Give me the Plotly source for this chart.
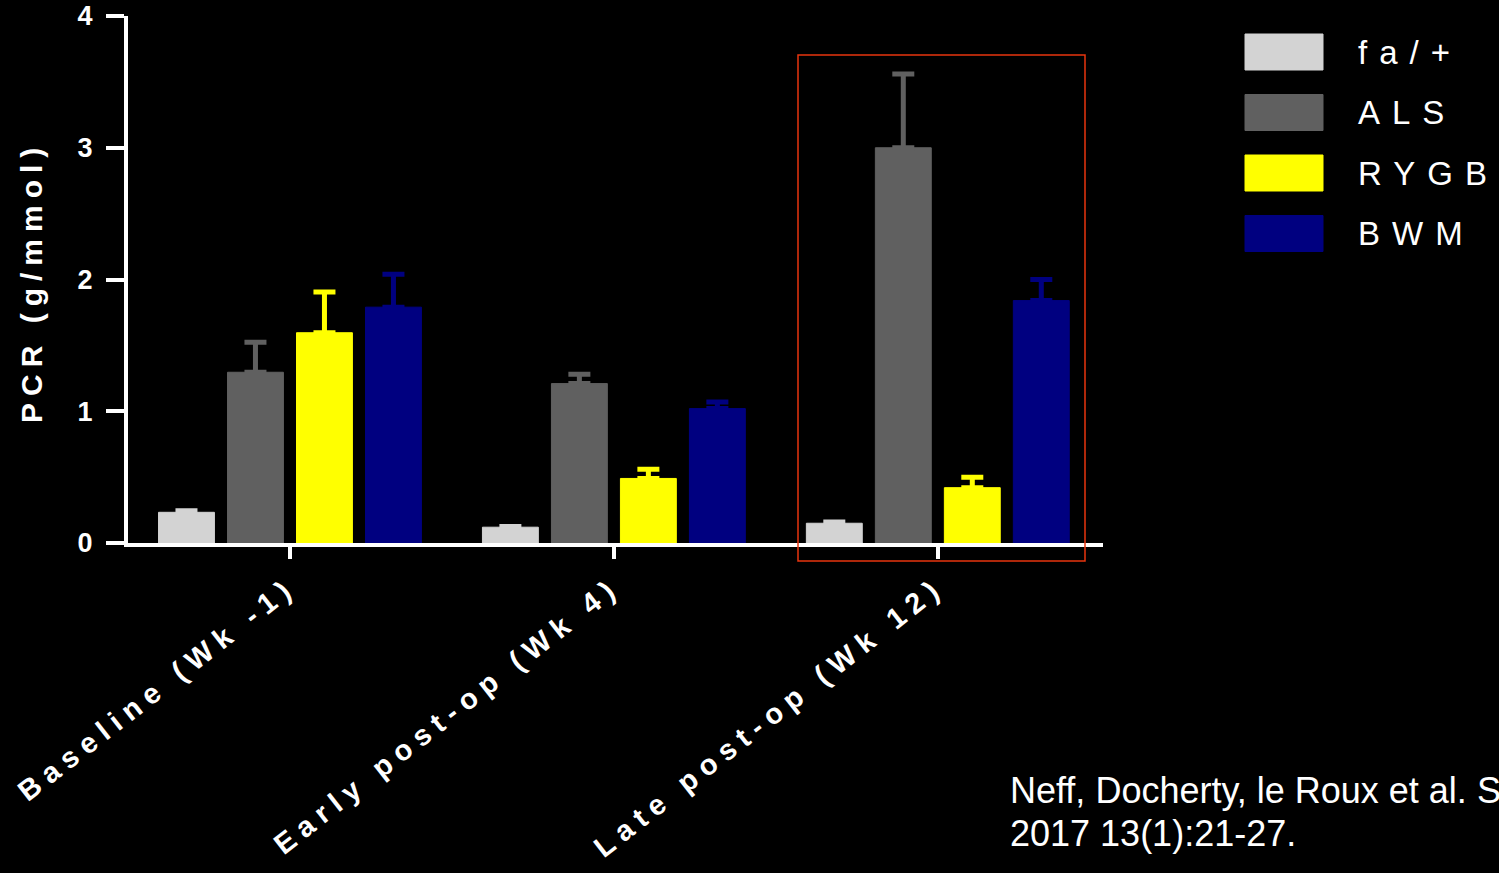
import plotly.graph_objects as go

# ---------------- data ----------------
categories = ["Baseline (Wk -1)", "Early post-op (Wk 4)", "Late post-op (Wk 12)"]
series_names = ["fa/+", "ALS", "RYGB", "BWM"]
fa_vals = [0.233, 0.12, 0.15]
fa_err = [0.012, 0.005, 0.01]
als_vals = [1.296, 1.21, 3.00]
als_err = [0.227, 0.07, 0.56]
rygb_vals = [1.596, 0.49, 0.42]
rygb_err = [0.31, 0.07, 0.08]
bwm_vals = [1.79, 1.02, 1.84]
bwm_err = [0.25, 0.05, 0.16]
y_ticks = [0, 1, 2, 3, 4]
colors = ["#D3D3D3", "#606060", "#FFFF00", "#000080"]
citation_lines = ["Neff, Docherty, le Roux et al. Surg Obes Relat Dis.", "2017 13(1):21-27."]

values = [fa_vals, als_vals, rygb_vals, bwm_vals]
errors = [fa_err, als_err, rygb_err, bwm_err]

FONT = "Liberation Sans, Arial, sans-serif"
W, H = 1499, 873
L, R, T, B = 128, 396, 16, 330
PW, PH = W - L - R, H - T - B


def px(x):
    return (x - L) / PW


def py(y):
    return (H - B - y) / PH


def spaced(text, sp):
    return f'<span style="letter-spacing:{sp}px">{text}</span>'


fig = go.Figure()
xs = list(range(len(categories)))
for name, vals, errs, col in zip(series_names, values, errors, colors):
    fig.add_trace(go.Bar(
        x=xs, y=vals, name=name,
        marker=dict(color=col, line=dict(color=col, width=1)),
        error_y=dict(type="data", array=errs, arrayminus=[0] * len(errs),
                     symmetric=False, color=col, thickness=5, width=11),
        showlegend=False, hoverinfo="skip",
    ))

fig.update_layout(
    width=W, height=H,
    paper_bgcolor="black", plot_bgcolor="black",
    margin=dict(l=L, r=R, t=T, b=B, autoexpand=False),
    barmode="group", bargap=0.148, bargroupgap=0.19,
    font=dict(family=FONT, color="white"),
)

fig.update_xaxes(
    range=[-0.5, 2.51], tickmode="array", tickvals=xs,
    ticktext=[spaced(c, 7.5) for c in categories],
    tickangle=-38, tickfont=dict(size=29, family=FONT, color="white", weight="bold"),
    ticks="outside", ticklen=12, tickwidth=4, tickcolor="white", automargin=False,
    showline=True, linewidth=4, linecolor="white", showgrid=False, zeroline=False,
)
fig.update_yaxes(
    range=[0, 4], tickmode="array", tickvals=y_ticks, ticktext=[str(v) for v in y_ticks],
    tickfont=dict(size=27, family=FONT, color="white", weight="bold"),
    ticks="outside", ticklen=18, tickwidth=4, tickcolor="white", ticklabelstandoff=8,
    automargin=False,
    showline=True, linewidth=4, linecolor="white", showgrid=False, zeroline=False,
)

shapes = []
annotations = []
# highlight box
shapes.append(dict(type="rect", xref="paper", yref="paper",
                   x0=px(798), x1=px(1085), y0=py(561), y1=py(55),
                   line=dict(color="#E8350E", width=1.5), fillcolor="rgba(0,0,0,0)"))
# legend
for i, (name, col) in enumerate(zip(series_names, colors)):
    cy = 52 + i * 60.5
    shapes.append(dict(type="rect", xref="paper", yref="paper",
                       x0=px(1245), x1=px(1323), y0=py(cy + 18), y1=py(cy - 18),
                       line=dict(color=col, width=1), fillcolor=col))
    annotations.append(dict(xref="paper", yref="paper", x=px(1356), y=py(cy),
                            xanchor="left", yanchor="middle", showarrow=False,
                            text=spaced(name, 12), font=dict(size=33, family=FONT, color="white")))
# y-axis title
annotations.append(dict(xref="paper", yref="paper", x=px(31), y=py(282),
                        xanchor="center", yanchor="middle", showarrow=False, textangle=-90,
                        text=spaced("PCR (g/mmol)", 7),
                        font=dict(size=30, family=FONT, color="white", weight="bold")))
# citation
for j, line in enumerate(citation_lines):
    annotations.append(dict(xref="paper", yref="paper", x=px(1008), y=py(790 + 43 * j),
                            xanchor="left", yanchor="middle", showarrow=False, align="left",
                            text=line, font=dict(size=36, family=FONT, color="white")))

fig.update_layout(shapes=shapes, annotations=annotations)
fig.write_html("out.html", config={"displayModeBar": False},
               post_script="document.body.style.margin='0';document.body.style.background='black';")
